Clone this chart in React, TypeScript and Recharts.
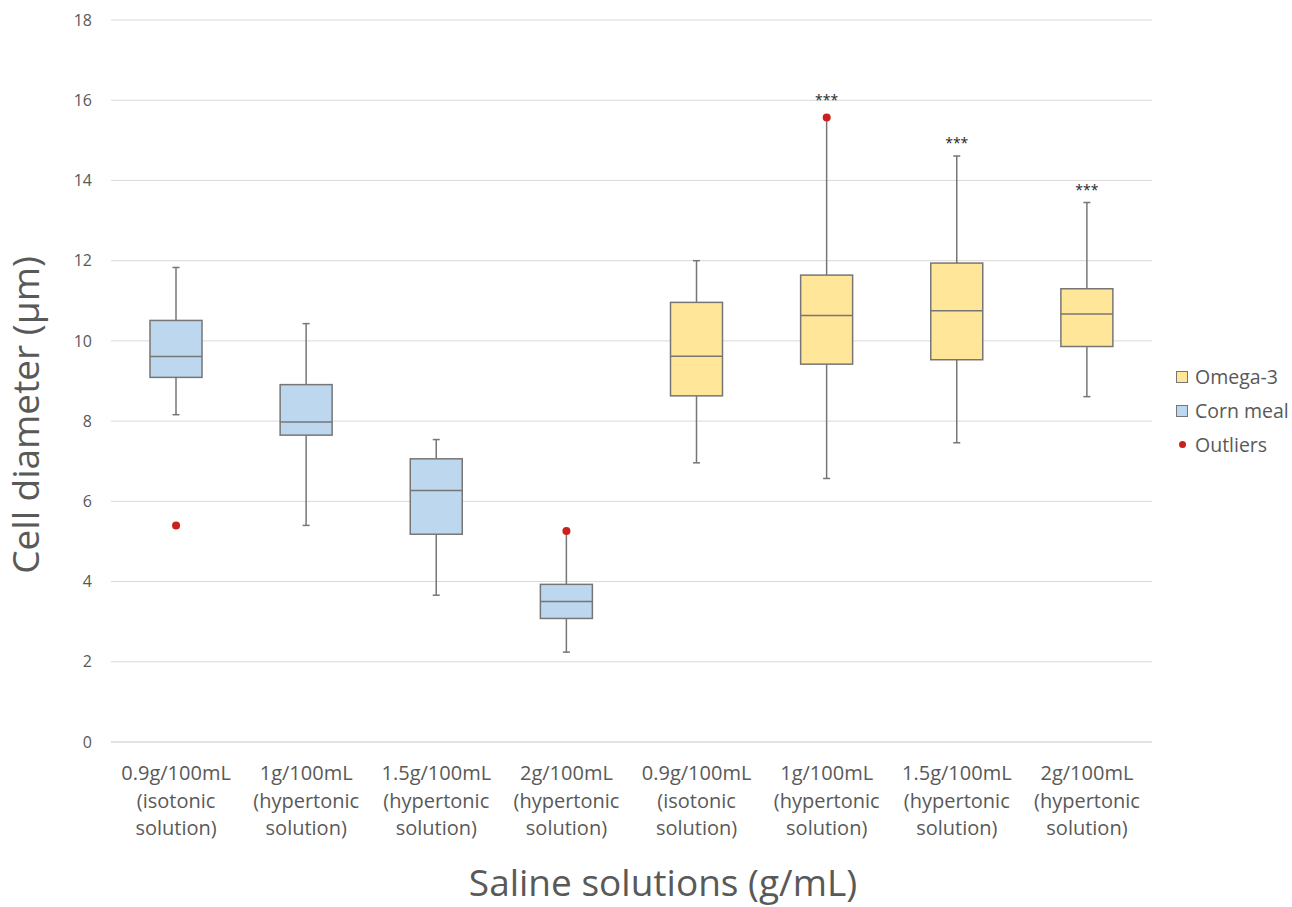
import React from 'react';
import { ComposedChart, Bar, Scatter, XAxis, YAxis, CartesianGrid, Legend } from 'recharts';

// ---- data ----
const concentrations = ['0.9g/100mL', '1g/100mL', '1.5g/100mL', '2g/100mL', '0.9g/100mL', '1g/100mL', '1.5g/100mL', '2g/100mL'];
const solutionTypes = ['(isotonic', '(hypertonic', '(hypertonic', '(hypertonic', '(isotonic', '(hypertonic', '(hypertonic', '(hypertonic'];
const solutionWord = 'solution)';
const groups = ['Corn meal', 'Corn meal', 'Corn meal', 'Corn meal', 'Omega-3', 'Omega-3', 'Omega-3', 'Omega-3'];
const minValues = [8.16, 5.4, 3.66, 2.24, 6.96, 6.57, 7.46, 8.61];
const q1Values = [9.09, 7.65, 5.18, 3.08, 8.63, 9.42, 9.53, 9.86];
const medianValues = [9.61, 7.98, 6.27, 3.5, 9.62, 10.63, 10.75, 10.67];
const q3Values = [10.51, 8.91, 7.06, 3.93, 10.96, 11.64, 11.94, 11.3];
const maxValues = [11.83, 10.43, 7.54, 5.26, 12.0, 15.55, 14.61, 13.45];
const outlierValues: (number | null)[] = [5.4, null, null, 5.26, null, 15.57, null, null];
const significance = ['', '', '', '', '', '***', '***', '***'];
const yTicks = [0, 2, 4, 6, 8, 10, 12, 14, 16, 18];
const legendItems = ['Omega-3', 'Corn meal', 'Outliers'];

const COLORS: Record<string, string> = { 'Corn meal': '#BDD7EE', 'Omega-3': '#FFE699' };
const STROKE = '#767676';
const OUTLIER = '#C9211E';
const TEXT = '#595959';
const FONT = '"Open Sans", sans-serif';

const data = concentrations.map((c, i) => ({
  id: `c${i}`,
  index: i,
  group: groups[i],
  min: minValues[i],
  q1: q1Values[i],
  median: medianValues[i],
  q3: q3Values[i],
  max: maxValues[i],
  range: [minValues[i], maxValues[i]],
  outlier: outlierValues[i],
  sig: significance[i],
}));

const BoxShape = (props: any) => {
  const { x, y, width, height, payload } = props;
  if (payload == null || height == null) return null;
  const { min, q1, median, q3, max, group, outlier, sig } = payload;
  const k = height / (max - min);
  const py = (v: number) => y + (max - v) * k;
  const cx = x + width / 2;
  const cap = 3.5;
  const topVal = outlier != null ? Math.max(max, outlier) : max;
  const topY = py(topVal) - (outlier != null && outlier >= max ? 4 : 0);
  return (
    <g>
      <line x1={cx} x2={cx} y1={py(max)} y2={py(q3)} stroke={STROKE} strokeWidth={1.5} />
      <line x1={cx} x2={cx} y1={py(q1)} y2={py(min)} stroke={STROKE} strokeWidth={1.5} />
      <line x1={cx - cap} x2={cx + cap} y1={py(max)} y2={py(max)} stroke={STROKE} strokeWidth={1.5} />
      <line x1={cx - cap} x2={cx + cap} y1={py(min)} y2={py(min)} stroke={STROKE} strokeWidth={1.5} />
      <rect x={x} y={py(q3)} width={width} height={py(q1) - py(q3)} fill={COLORS[group]} stroke={STROKE} strokeWidth={1.5} />
      <line x1={x} x2={x + width} y1={py(median)} y2={py(median)} stroke={STROKE} strokeWidth={1.5} />
      {sig ? (
        <text x={cx} y={topY - 8} textAnchor="middle" fontSize={14} fill="#262626" fontFamily={FONT}>
          {sig}
        </text>
      ) : null}
    </g>
  );
};

const OutlierShape = (props: any) => {
  const { cx, cy, payload } = props;
  if (payload == null || payload.outlier == null || !isFinite(cy)) return <g />;
  return <circle cx={cx} cy={cy} r={4} fill={OUTLIER} />;
};

const XTick = (props: any) => {
  const { x, y, index } = props;
  const lines = [concentrations[index], solutionTypes[index], solutionWord];
  return (
    <g>
      {lines.map((l, j) => (
        <text key={j} x={x} y={y + 38 + j * 27.5} textAnchor="middle" fontSize={20} fill={TEXT} fontFamily={FONT}>
          {l}
        </text>
      ))}
    </g>
  );
};

const LegendContent = () => (
  <div style={{ fontFamily: FONT, fontSize: 19.5, color: TEXT }}>
    {legendItems.map((name) => (
      <div key={name} style={{ display: 'flex', alignItems: 'center', height: 34, whiteSpace: 'nowrap' }}>
        {name === 'Outliers' ? (
          <span style={{ flex: 'none', display: 'inline-block', width: 7, height: 7, borderRadius: '50%', background: OUTLIER, marginLeft: 4.5, marginRight: 9.5 }} />
        ) : (
          <span style={{ flex: 'none', display: 'inline-block', width: 10, height: 10, background: COLORS[name], border: `1px solid ${STROKE}`, marginLeft: 2, marginRight: 7 }} />
        )}
        <span style={{ flex: 'none', whiteSpace: 'nowrap' }}>{name}</span>
      </div>
    ))}
  </div>
);

export default function App() {
  return (
    <div style={{ position: 'absolute', left: 0, top: 0, width: 1292, height: 907, overflow: 'hidden', fontFamily: FONT }}>
      <ComposedChart width={1292} height={907} data={data} margin={{ top: 20, right: 140, left: 51, bottom: 65 }}>
        <CartesianGrid vertical={false} stroke="#D9D9D9" strokeWidth={1} />
        <XAxis
          dataKey="id"
          height={100}
          tickLine={false}
          tickSize={0}
          tickMargin={0}
          axisLine={{ stroke: '#D9D9D9' }}
          tick={<XTick />}
          interval={0}
        />
        <YAxis
          width={60}
          domain={[0, 18]}
          ticks={yTicks}
          axisLine={false}
          tickLine={false}
          tickMargin={13}
          tick={{ fontSize: 16, fill: TEXT, fontFamily: FONT }}
          allowDataOverflow
        />
        <Bar dataKey="range" barSize={52} shape={<BoxShape />} isAnimationActive={false} />
        <Scatter dataKey="outlier" fill={OUTLIER} shape={<OutlierShape />} isAnimationActive={false} />
        <Legend
          layout="vertical"
          align="center"
          verticalAlign="middle"
          content={<LegendContent />}
          wrapperStyle={{ left: 1174, top: 359.5, width: 118 }}
        />
        <text x={663} y={896} textAnchor="middle" fontSize={37} fill={TEXT} fontFamily={FONT}>
          Saline solutions (g/mL)
        </text>
        <text x={39} y={415} transform="rotate(-90, 39, 415)" textAnchor="middle" fontSize={37} fill={TEXT} fontFamily={FONT}>
          Cell diameter (µm)
        </text>
      </ComposedChart>
    </div>
  );
}
